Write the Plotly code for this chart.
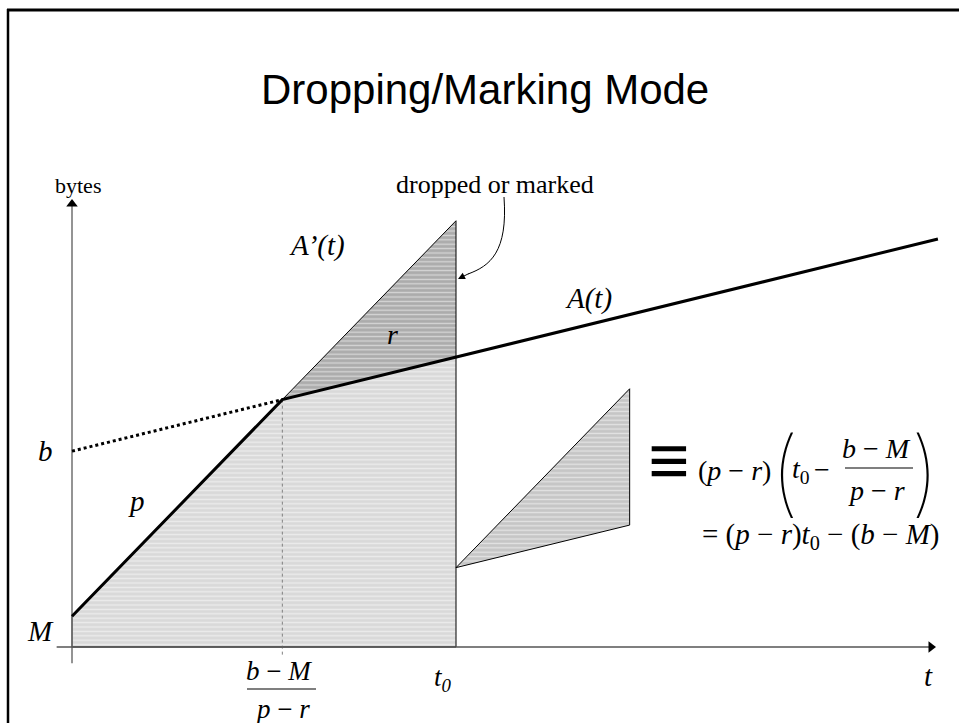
import plotly.graph_objects as go

# ---- model parameters (bytes against time) ----
M = 0.8           # maximum packet size
b = 5.1           # bucket depth
p = 1.03          # peak rate
r = 0.245         # token rate
t0 = 10.0         # end of the burst
t_end = 22.55     # end of the long-run arrival curve A(t)
shift_y = -4.375  # vertical offset of the equivalent triangle

knee = (b - M) / (p - r)
A_knee = M + p * knee
A_t0 = b + r * t0
Ap_t0 = M + p * t0
A_end = b + r * t_end

# ---- canvas geometry ----
W, H = 959, 723
S = 38.4            # pixels per unit
X0, Y0 = 72, 647    # origin position on the canvas
x_range = [-X0 / S, (W - X0) / S]
y_range = [-(H - Y0) / S, Y0 / S]


def px(x):
    return x / W


def py(y):
    return 1 - y / H


SERIF = "Liberation Serif, Times New Roman, serif"
SANS = "Liberation Sans, Arial, sans-serif"
THIN = "Inter, Lato, sans-serif"

fig = go.Figure()

# area under A(t) up to t0
fig.add_trace(go.Scatter(
    x=[0, 0, knee, t0, t0, 0],
    y=[0, M, A_knee, A_t0, 0, 0],
    mode="lines", fill="toself", fillcolor="#dcdcdc",
    fillpattern=dict(shape="-", bgcolor="#d9d9d9", fgcolor="white",
                     size=4.4, solidity=0.3),
    line=dict(color="black", width=1), hoverinfo="skip"))

# dropped / marked region between A'(t) and A(t)
fig.add_trace(go.Scatter(
    x=[knee, t0, t0, knee],
    y=[A_knee, Ap_t0, A_t0, A_knee],
    mode="lines", fill="toself", fillcolor="#b2b2b2",
    fillpattern=dict(shape="-", bgcolor="#acacac", fgcolor="white",
                     size=4.4, solidity=0.3),
    line=dict(color="black", width=1), hoverinfo="skip"))

# equivalent triangle, moved aside
dx = t0 - knee
fig.add_trace(go.Scatter(
    x=[knee + dx, t0 + dx, t0 + dx, knee + dx],
    y=[A_knee + shift_y, Ap_t0 + shift_y, A_t0 + shift_y, A_knee + shift_y],
    mode="lines", fill="toself", fillcolor="#cacaca",
    fillpattern=dict(shape="-", bgcolor="#c6c6c6", fgcolor="white",
                     size=4.4, solidity=0.3),
    line=dict(color="black", width=1), hoverinfo="skip"))

# vertical dotted guide at the knee
fig.add_trace(go.Scatter(
    x=[knee, knee], y=[A_knee, -0.27], mode="lines",
    line=dict(color="#808080", width=1, dash="dot"), hoverinfo="skip"))

# axes
fig.add_trace(go.Scatter(
    x=[0, 0], y=[-0.42, (Y0 - 204) / S], mode="lines",
    line=dict(color="#707070", width=1.5), hoverinfo="skip"))
fig.add_trace(go.Scatter(
    x=[-0.4, (930 - X0) / S], y=[0, 0], mode="lines",
    line=dict(color="#555555", width=1.5), hoverinfo="skip"))
fig.add_trace(go.Scatter(
    x=[0], y=[(Y0 - 204) / S], mode="markers",
    marker=dict(symbol="triangle-up", size=10, color="black"), hoverinfo="skip"))
fig.add_trace(go.Scatter(
    x=[(931 - X0) / S], y=[0], mode="markers",
    marker=dict(symbol="triangle-right", size=10, color="black"), hoverinfo="skip"))

# b + r t extended back to t = 0
fig.add_trace(go.Scatter(
    x=[0, knee], y=[b, A_knee], mode="lines",
    line=dict(color="black", width=3, dash="dot"), hoverinfo="skip"))

# arrival curve A(t)
fig.add_trace(go.Scatter(
    x=[0, knee, t_end], y=[M, A_knee, A_end], mode="lines",
    line=dict(color="black", width=3), hoverinfo="skip"))

ann = []


def txt(x, y, text, size=26, family=SERIF, ref="paper", weight=None, **kw):
    font = dict(family=family, size=size, color="black")
    if weight is not None:
        font["weight"] = weight
    d = dict(x=x, y=y, text=text, showarrow=False, font=font,
             xanchor="center", yanchor="middle")
    if ref == "paper":
        d.update(xref="paper", yref="paper")
    else:
        d.update(xref="x", yref="y")
    d.update(kw)
    ann.append(d)


txt(px(485), py(89), "Dropping/Marking Mode", size=42, family=SANS)
txt(px(78), py(186), "bytes", size=22)
txt(px(495), py(184), "dropped or marked", size=26)
txt(px(317), py(245), "<i>A’(t)</i>", size=29)
txt(px(392), py(334), "<i>r</i>", size=28)
txt(px(588), py(298), "<i>A(t)</i>", size=29)
txt(px(136), py(501), "<i>p</i>", size=29)
txt(-0.68, b, "<i>b</i>", size=29, ref="data")
txt(-0.82, M, "<i>M</i>", size=29, ref="data", yshift=-15)
txt(t0, 0, "<i>t<sub>0</sub></i>", size=27, ref="data", xshift=-13, yshift=-32)
txt(px(928), py(676), "<i>t</i>", size=29)

# (b-M)/(p-r) under the knee
txt(knee, 0, "<i>b</i> − <i>M</i>", size=27, ref="data", xshift=-3, yshift=-24)
txt(knee, 0, "<i>p</i> − <i>r</i>", size=27, ref="data", yshift=-62)

# equivalence formula
txt(px(669), py(461), "<b>≡</b>", size=74)
txt(px(734), py(470), "(<i>p</i> − <i>r</i>)", size=28)
txt(px(785), py(471), "(", size=94, family=THIN, weight=100)
txt(px(801), py(470), "<i>t</i><sub>0</sub>", size=28)
txt(px(822), py(469), "−", size=28)
txt(px(876), py(448), "<i>b</i> − <i>M</i>", size=28)
txt(px(876), py(490), "<i>p</i> − <i>r</i>", size=28)
txt(px(925), py(471), ")", size=94, family=THIN, weight=100)
txt(px(821), py(536), "= (<i>p</i> − <i>r</i>)<i>t</i><sub>0</sub> − (<i>b</i> − <i>M</i>)", size=29)

# callout arrowhead
ann.append(dict(x=px(458), y=py(279), xref="paper", yref="paper",
                ax=12, ay=-6, axref="pixel", ayref="pixel",
                text="", showarrow=True, arrowhead=2, arrowsize=1.4,
                arrowwidth=1, arrowcolor="black"))

shapes = [
    # fraction bars
    dict(type="line", xref="paper", yref="paper",
         x0=px(247), x1=px(316), y0=py(689), y1=py(689),
         line=dict(color="black", width=1.2)),
    dict(type="line", xref="paper", yref="paper",
         x0=px(845), x1=px(913), y0=py(468), y1=py(468),
         line=dict(color="black", width=1.2)),
    # callout curve
    dict(type="path", xref="paper", yref="paper",
         path=(f"M {px(504)} {py(197)} C {px(508)} {py(252)}, "
               f"{px(490)} {py(266)}, {px(468)} {py(274)}"),
         line=dict(color="black", width=1)),
    # page frame
    dict(type="line", xref="paper", yref="paper",
         x0=px(8), x1=px(8), y0=py(9), y1=0,
         line=dict(color="black", width=2.5)),
    dict(type="line", xref="paper", yref="paper",
         x0=px(7), x1=1, y0=py(10), y1=py(10),
         line=dict(color="black", width=3)),
]

fig.update_layout(
    width=W, height=H, autosize=False,
    margin=dict(l=0, r=0, t=0, b=0),
    paper_bgcolor="white", plot_bgcolor="white",
    showlegend=False,
    xaxis=dict(range=x_range, visible=False, fixedrange=True),
    yaxis=dict(range=y_range, visible=False, fixedrange=True),
    annotations=ann, shapes=shapes,
)

fig.write_html("out.html")
